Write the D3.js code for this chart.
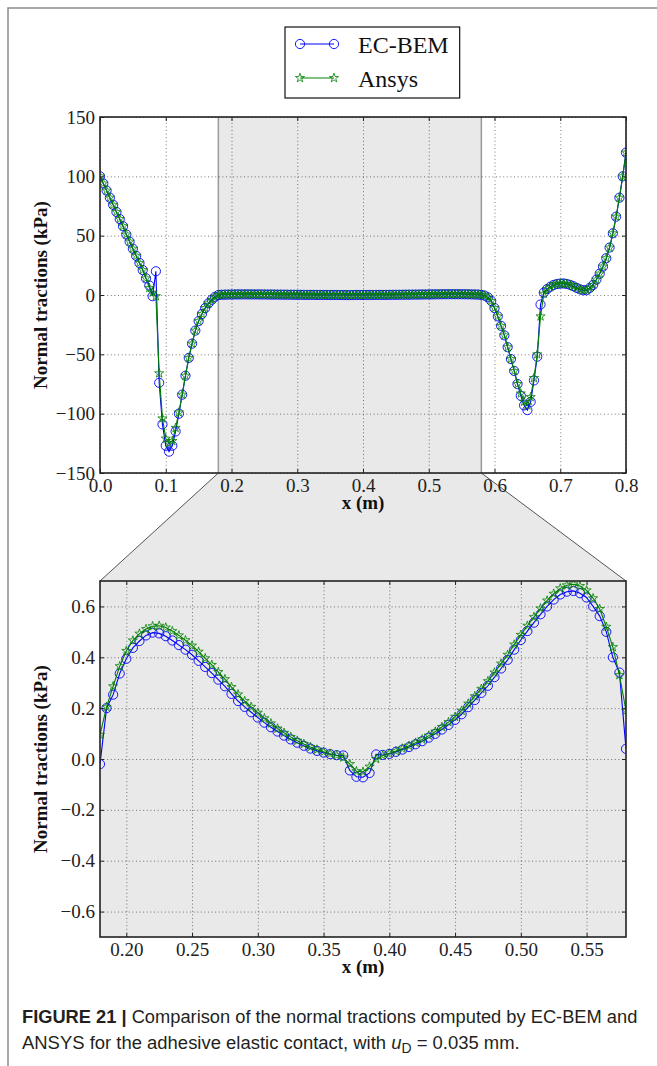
<!DOCTYPE html>
<html>
<head>
<meta charset="utf-8">
<script src="https://cdnjs.cloudflare.com/ajax/libs/d3/7.8.5/d3.min.js"></script>
<style>
  body { margin: 0; background: #fff; }
  svg { display: block; }
</style>
</head>
<body>
<script>
// node positions along the contact (m)
const nodeX = [
  0, 0.005, 0.01, 0.015, 0.02, 0.025, 0.03, 0.035, 0.04, 0.045,
  0.05, 0.055, 0.06, 0.065, 0.07, 0.075, 0.08, 0.085, 0.09, 0.095,
  0.1, 0.105, 0.11, 0.115, 0.12, 0.125, 0.13, 0.135, 0.14, 0.145,
  0.15, 0.155, 0.16, 0.165, 0.17, 0.175, 0.18, 0.185, 0.19, 0.195,
  0.2, 0.205, 0.21, 0.215, 0.22, 0.225, 0.23, 0.235, 0.24, 0.245,
  0.25, 0.255, 0.26, 0.265, 0.27, 0.275, 0.28, 0.285, 0.29, 0.295,
  0.3, 0.305, 0.31, 0.315, 0.32, 0.325, 0.33, 0.335, 0.34, 0.345,
  0.35, 0.355, 0.36, 0.365, 0.37, 0.375, 0.38, 0.385, 0.39, 0.395,
  0.4, 0.405, 0.41, 0.415, 0.42, 0.425, 0.43, 0.435, 0.44, 0.445,
  0.45, 0.455, 0.46, 0.465, 0.47, 0.475, 0.48, 0.485, 0.49, 0.495,
  0.5, 0.505, 0.51, 0.515, 0.52, 0.525, 0.53, 0.535, 0.54, 0.545,
  0.55, 0.555, 0.56, 0.565, 0.57, 0.575, 0.58, 0.585, 0.59, 0.595,
  0.6, 0.605, 0.61, 0.615, 0.62, 0.625, 0.63, 0.635, 0.64, 0.645,
  0.65, 0.655, 0.66, 0.665, 0.67, 0.675, 0.68, 0.685, 0.69, 0.695,
  0.7, 0.705, 0.71, 0.715, 0.72, 0.725, 0.73, 0.735, 0.74, 0.745,
  0.75, 0.755, 0.76, 0.765, 0.77, 0.775, 0.78, 0.785, 0.79, 0.795,
  0.8
];

// normal tractions (kPa), EC-BEM
const bemT = [
  100, 94, 88, 82, 76, 70, 64, 58, 51, 45,
  39, 33, 27, 21, 14, 8, -1, 20, -74, -109,
  -127, -132, -127, -115, -100, -84, -68, -53, -41, -30,
  -22, -16, -11, -7, -4, -1.5, -0.02, 0.2, 0.253, 0.336,
  0.394, 0.437, 0.464, 0.486, 0.497, 0.494, 0.483, 0.466, 0.448, 0.43,
  0.41, 0.386, 0.362, 0.338, 0.312, 0.286, 0.256, 0.228, 0.205, 0.184,
  0.163, 0.143, 0.125, 0.108, 0.092, 0.077, 0.064, 0.052, 0.041, 0.032,
  0.025, 0.019, 0.015, 0.014, -0.045, -0.07, -0.072, -0.055, 0.018, 0.016,
  0.02, 0.028, 0.037, 0.047, 0.058, 0.07, 0.084, 0.099, 0.116, 0.134,
  0.154, 0.176, 0.204, 0.232, 0.26, 0.288, 0.322, 0.356, 0.39, 0.43,
  0.468, 0.503, 0.536, 0.569, 0.6, 0.627, 0.647, 0.658, 0.661, 0.652,
  0.635, 0.6, 0.562, 0.5, 0.4, 0.34, 0.04, -0.5, -2, -5,
  -11, -18, -26, -34, -44, -54, -64, -75, -85, -93,
  -97, -90, -72, -52, -8, 2, 5, 7, 8.5, 9.3,
  9.6, 9.7, 9.3, 8.5, 7.4, 6, 4.8, 4, 4, 6,
  8.5, 13, 18, 24, 31, 40, 52, 66, 82, 100,
  120
];

// normal tractions (kPa), Ansys
const ansysT = [
  100, 94, 88, 82, 76, 70, 64, 58, 51, 45,
  39, 33, 27, 21, 14, 6, 2, -1, -66, -104,
  -121, -125, -123, -112, -99, -84, -68, -53, -41, -30,
  -22, -16, -11, -7, -4, -1.5, 0.095, 0.205, 0.286, 0.365,
  0.425, 0.466, 0.493, 0.511, 0.522, 0.524, 0.517, 0.503, 0.486, 0.467,
  0.446, 0.422, 0.396, 0.37, 0.342, 0.314, 0.283, 0.254, 0.228, 0.205,
  0.182, 0.16, 0.14, 0.12, 0.103, 0.087, 0.072, 0.059, 0.047, 0.037,
  0.028, 0.021, 0.014, 0.006, -0.02, -0.048, -0.05, -0.03, 0, 0.014,
  0.022, 0.031, 0.041, 0.052, 0.064, 0.077, 0.092, 0.108, 0.126, 0.145,
  0.166, 0.19, 0.218, 0.247, 0.276, 0.306, 0.34, 0.375, 0.41, 0.45,
  0.488, 0.524, 0.558, 0.592, 0.623, 0.65, 0.671, 0.683, 0.687, 0.68,
  0.663, 0.632, 0.59, 0.52, 0.44, 0.33, 0.19, -0.5, -2, -5,
  -11, -18, -26, -34, -44, -54, -64, -75, -83, -90,
  -93, -86, -70, -50, -18, 1, 5, 7, 8.5, 9.3,
  9.6, 9.7, 9.3, 8.5, 7.4, 6, 4.8, 4, 4, 6,
  8.5, 13, 18, 24, 31, 40, 52, 66, 82, 100,
  120
];

const seriesNames = ["EC-BEM", "Ansys"];
const zoomBand = [0.18, 0.58];
const topXTicks = [0, 0.1, 0.2, 0.3, 0.4, 0.5, 0.6, 0.7, 0.8];
const topYTicks = [-150, -100, -50, 0, 50, 100, 150];
const botXTicks = [0.2, 0.25, 0.3, 0.35, 0.4, 0.45, 0.5, 0.55];
const botYTicks = [-0.6, -0.4, -0.2, 0, 0.2, 0.4, 0.6];

const W = 657, H = 1066;
const serif = "'Liberation Serif', 'DejaVu Serif', serif";
const blue = "#0000ff", green = "#008000", shade = "#e9e9e9";

const svg = d3.select("body").append("svg")
  .attr("width", W).attr("height", H);

svg.append("rect").attr("width", W).attr("height", H).attr("fill", "#fff");

// figure frame (top and left rules)
svg.append("path")
  .attr("d", `M8,${H} V8 H${W}`)
  .attr("fill", "none").attr("stroke", "#8a8a8a").attr("stroke-width", 1.5);

const pts = nodeX.map((x, i) => ({ x, a: bemT[i], b: ansysT[i] }));
const star = d3.symbol().type(d3.symbolStar).size(26);

function drawPanel(p) {
  const x = d3.scaleLinear().domain(p.xDomain).range([p.left, p.right]);
  const y = d3.scaleLinear().domain(p.yDomain).range([p.bottom, p.top]);
  const w = p.right - p.left, h = p.bottom - p.top;
  const g = svg.append("g");

  svg.append("clipPath").attr("id", "clip-" + p.name)
    .append("rect").attr("x", p.left).attr("y", p.top).attr("width", w).attr("height", h);

  if (p.fullShade) {
    g.append("rect").attr("x", p.left).attr("y", p.top).attr("width", w).attr("height", h)
      .attr("fill", shade);
  }
  if (p.band) {
    g.append("rect")
      .attr("x", x(p.band[0])).attr("y", p.top)
      .attr("width", x(p.band[1]) - x(p.band[0])).attr("height", h)
      .attr("fill", shade);
    p.band.forEach(b => {
      g.append("line")
        .attr("x1", x(b)).attr("x2", x(b)).attr("y1", p.top).attr("y2", p.bottom)
        .attr("stroke", "#9a9a9a").attr("stroke-width", 1.5);
    });
  }

  // dotted grid
  const grid = sel => sel.call(s => s.select(".domain").remove())
    .selectAll(".tick line")
    .attr("stroke", "#000").attr("stroke-width", 0.7)
    .attr("stroke-dasharray", "1,2.6").attr("opacity", 0.75);
  g.append("g").attr("transform", `translate(0,${p.bottom})`)
    .call(d3.axisBottom(x).tickValues(p.xTicks).tickSize(-h).tickFormat(""))
    .call(grid);
  g.append("g").attr("transform", `translate(${p.left},0)`)
    .call(d3.axisLeft(y).tickValues(p.yTicks).tickSize(-w).tickFormat(""))
    .call(grid);

  // data
  const eps = 1e-9;
  const data = pts.filter(d => d.x >= p.xDomain[0] - eps && d.x <= p.xDomain[1] + eps);
  const dg = g.append("g").attr("clip-path", `url(#clip-${p.name})`);

  dg.append("path").datum(data)
    .attr("d", d3.line().x(d => x(d.x)).y(d => y(d.a)))
    .attr("fill", "none").attr("stroke", blue).attr("stroke-width", 1.1);
  dg.append("g").selectAll("circle").data(data).join("circle")
    .attr("cx", d => x(d.x)).attr("cy", d => y(d.a)).attr("r", 4.6)
    .attr("fill", "none").attr("stroke", blue).attr("stroke-width", 0.9);

  dg.append("path").datum(data)
    .attr("d", d3.line().x(d => x(d.x)).y(d => y(d.b)))
    .attr("fill", "none").attr("stroke", green).attr("stroke-width", 1.1);
  dg.append("g").selectAll("path").data(data).join("path")
    .attr("transform", d => `translate(${x(d.x)},${y(d.b)})`)
    .attr("d", star).attr("fill", "none").attr("stroke", green).attr("stroke-width", 0.8);

  // spines
  g.append("rect").attr("x", p.left).attr("y", p.top).attr("width", w).attr("height", h)
    .attr("fill", "none").attr("stroke", "#222").attr("stroke-width", 1.6);

  // inward ticks on all sides, labels bottom/left
  const style = sel => sel.call(s => s.select(".domain").remove())
    .attr("font-family", serif).attr("font-size", 19)
    .call(s => s.selectAll(".tick line").attr("stroke", "#222").attr("stroke-width", 1))
    .call(s => s.selectAll(".tick text").attr("fill", "#222"));
  g.append("g").attr("transform", `translate(0,${p.bottom})`)
    .call(d3.axisBottom(x).tickValues(p.xTicks).tickFormat(p.xFmt).tickSizeInner(-4).tickSizeOuter(0).tickPadding(6))
    .call(style);
  g.append("g").attr("transform", `translate(0,${p.top})`)
    .call(d3.axisTop(x).tickValues(p.xTicks).tickFormat("").tickSizeInner(-4).tickSizeOuter(0))
    .call(style);
  g.append("g").attr("transform", `translate(${p.left},0)`)
    .call(d3.axisLeft(y).tickValues(p.yTicks).tickFormat(p.yFmt).tickSizeInner(-4).tickSizeOuter(0).tickPadding(5))
    .call(style);
  g.append("g").attr("transform", `translate(${p.right},0)`)
    .call(d3.axisRight(y).tickValues(p.yTicks).tickFormat("").tickSizeInner(-4).tickSizeOuter(0))
    .call(style);

  // axis titles
  g.append("text")
    .attr("x", (p.left + p.right) / 2).attr("y", p.bottom + 36)
    .attr("text-anchor", "middle").attr("font-family", serif)
    .attr("font-size", 19).attr("font-weight", "bold").attr("fill", "#111")
    .text("x (m)");
  g.append("text")
    .attr("transform", `translate(47,${(p.top + p.bottom) / 2}) rotate(-90)`)
    .attr("text-anchor", "middle").attr("font-family", serif)
    .attr("font-size", 19).attr("font-weight", "bold").attr("fill", "#111")
    .text("Normal tractions (kPa)");

  return { x, y };
}

const topP = { name: "top", left: 100, right: 626, top: 117, bottom: 473 };
const botP = { name: "bot", left: 100, right: 626, top: 581, bottom: 937 };

// zoom connector (drawn before the panels)
const xTopTmp = d3.scaleLinear().domain([0, 0.8]).range([topP.left, topP.right]);
const zx0 = xTopTmp(zoomBand[0]), zx1 = xTopTmp(zoomBand[1]);
svg.append("path")
  .attr("d", `M${zx0},${topP.bottom} L${zx1},${topP.bottom} L${botP.right},${botP.top} L${botP.left},${botP.top} Z`)
  .attr("fill", shade);
svg.append("path")
  .attr("d", `M${zx0},${topP.bottom} L${botP.left},${botP.top} M${zx1},${topP.bottom} L${botP.right},${botP.top}`)
  .attr("fill", "none").attr("stroke", "#555").attr("stroke-width", 1);

drawPanel(Object.assign(topP, {
  xDomain: [0, 0.8], yDomain: [-150, 150],
  xTicks: topXTicks, yTicks: topYTicks,
  xFmt: d3.format(".1f"), yFmt: d3.format("d"),
  band: zoomBand
}));

drawPanel(Object.assign(botP, {
  xDomain: zoomBand, yDomain: [-0.7, 0.7],
  xTicks: botXTicks, yTicks: botYTicks,
  xFmt: d3.format(".2f"), yFmt: d3.format(".1f"),
  fullShade: true
}));

// legend
const leg = svg.append("g");
const legBox = leg.append("rect").attr("x", 285).attr("y", 27).attr("height", 71)
  .attr("fill", "#fff").attr("stroke", "#111").attr("stroke-width", 1.2);
const rows = [
  { name: seriesNames[0], y: 44, color: blue, mark: "circle" },
  { name: seriesNames[1], y: 78, color: green, mark: "star" }
];
let textEnd = 0;
rows.forEach(r => {
  leg.append("line").attr("x1", 300).attr("x2", 334).attr("y1", r.y).attr("y2", r.y)
    .attr("stroke", r.color).attr("stroke-width", 1.2);
  [300, 334].forEach(cx => {
    if (r.mark === "circle") {
      leg.append("circle").attr("cx", cx).attr("cy", r.y).attr("r", 4.6)
        .attr("fill", "none").attr("stroke", r.color).attr("stroke-width", 0.9);
    } else {
      leg.append("path").attr("transform", `translate(${cx},${r.y})`).attr("d", star)
        .attr("fill", "none").attr("stroke", r.color).attr("stroke-width", 0.8);
    }
  });
  const t = leg.append("text").attr("x", 358).attr("y", r.y + 8.5)
    .attr("font-family", serif).attr("font-size", 24).attr("fill", "#111").text(r.name);
  textEnd = Math.max(textEnd, 358 + t.node().getComputedTextLength());
});
legBox.attr("width", textEnd + 11 - 285);

// caption
const capFont = "'Liberation Sans', Arial, sans-serif";
const cap1 = svg.append("text").attr("x", 22).attr("y", 1023)
  .attr("font-family", capFont).attr("font-size", 18.5).attr("fill", "#231f20");
cap1.append("tspan").attr("font-weight", "bold").text("FIGURE 21 |");
cap1.append("tspan").text(" Comparison of the normal tractions computed by EC-BEM and");
const w1 = cap1.node().getComputedTextLength();
cap1.attr("transform", `translate(22,0) scale(${616 / w1},1) translate(-22,0)`);

const cap2 = svg.append("text").attr("x", 22).attr("y", 1049)
  .attr("font-family", capFont).attr("font-size", 18.5).attr("fill", "#231f20");
cap2.append("tspan").text("ANSYS for the adhesive elastic contact, with ");
cap2.append("tspan").attr("font-style", "italic").text("u");
cap2.append("tspan").attr("dy", 4).attr("font-size", 14).text("D");
cap2.append("tspan").attr("dy", -4).text(" = 0.035 mm.");
const w2 = cap2.node().getComputedTextLength();
cap2.attr("transform", `translate(22,0) scale(${498 / w2},1) translate(-22,0)`);
</script>
</body>
</html>
